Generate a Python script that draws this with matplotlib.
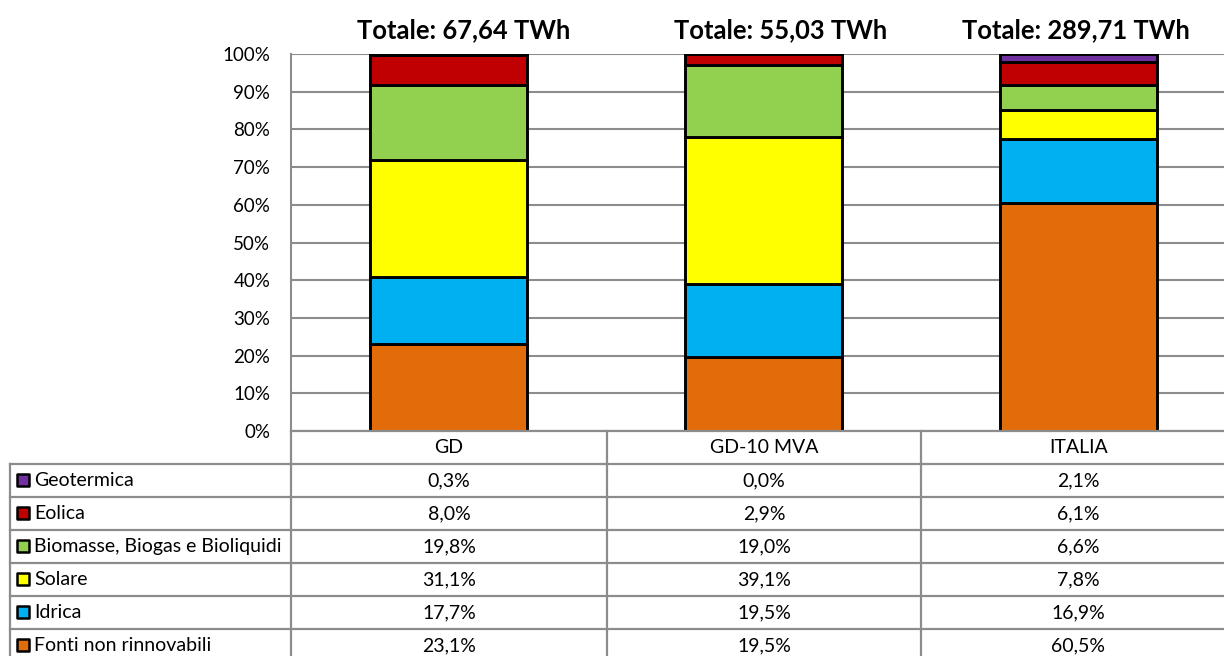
import numpy as np
import matplotlib.pyplot as plt

plt.rcParams['font.family'] = ['Lato', 'DejaVu Sans']

# categories and shares (%)
categorie = ['GD', 'GD-10 MVA', 'ITALIA']
totali = ['Totale: 67,64 TWh', 'Totale: 55,03 TWh', 'Totale: 289,71 TWh']

fonti = ['Fonti non rinnovabili', 'Idrica', 'Solare',
         'Biomasse, Biogas e Bioliquidi', 'Eolica', 'Geotermica']
non_rinnovabili = [23.1, 19.5, 60.5]
idrica = [17.7, 19.5, 16.9]
solare = [31.1, 39.1, 7.8]
biomasse = [19.8, 19.0, 6.6]
eolica = [8.0, 2.9, 6.1]
geotermica = [0.3, 0.0, 2.1]
serie = [non_rinnovabili, idrica, solare, biomasse, eolica, geotermica]
colori = ['#E36C0A', '#00B0F0', '#FFFF00', '#92D050', '#C00000', '#7030A0']

W, H = 1224, 656
GRID = '#8c8c8c'
FS = 14

fig = plt.figure(figsize=(W / 100, H / 100), dpi=100)

# plot area in pixels
px_l, px_r, px_t, px_b = 291, 1236, 54, 431
ax = fig.add_axes([px_l / W, 1 - px_b / H, (px_r - px_l) / W, (px_b - px_t) / H])

x = np.arange(len(categorie))
bottom = np.zeros(len(categorie))
for vals, col in zip(serie, colori):
    vals = np.array(vals)
    ax.bar(x, vals, 0.5, bottom=bottom, color=col, edgecolor='black',
           linewidth=2.1, zorder=3)
    bottom += vals

ax.set_xlim(-0.5, 2.5)
ax.set_ylim(0, 100)
ax.set_yticks(np.arange(0, 101, 10))
ax.set_yticklabels([f'{v}%' for v in range(0, 101, 10)], fontsize=13.5)
ax.set_xticks([])
ax.tick_params(axis='y', length=0, pad=15)
ax.yaxis.grid(True, color=GRID, linewidth=1.5, zorder=0)
for s in ['top', 'right', 'bottom']:
    ax.spines[s].set_visible(False)
ax.spines['left'].set_color(GRID)
ax.spines['left'].set_linewidth(1.5)

# title boxes are slightly shifted from the bar centres
title_shift = [11, 12, -2]
for xi, t, dx in zip(x, totali, title_shift):
    ax.annotate(t, (xi, 103.2), xytext=(dx, 0), textcoords='offset points',
                ha='center', va='bottom', fontsize=18.4, fontweight='bold',
                annotation_clip=False)

# data table below
tx_l, tx_r, ty_t, ty_b = 10, 1236, 431, 662
tax = fig.add_axes([tx_l / W, 1 - ty_b / H, (tx_r - tx_l) / W, (ty_b - ty_t) / H])
tax.set_xlim(tx_l, tx_r)
tax.set_ylim(ty_b, ty_t)
tax.axis('off')

col_edges = [px_l, 607, 921, px_r]
row_h = (ty_b - ty_t) / 7
rows = [ty_t + i * row_h for i in range(8)]

# horizontal lines
tax.plot([px_l, tx_r], [rows[0], rows[0]], color=GRID, lw=1.6, clip_on=False)
for r in rows[1:]:
    tax.plot([tx_l, tx_r], [r, r], color=GRID, lw=1.6, clip_on=False)
# vertical lines
tax.plot([tx_l, tx_l], [rows[1], ty_b], color=GRID, lw=1.6, clip_on=False)
for c in col_edges[:-1]:
    tax.plot([c, c], [rows[0], ty_b], color=GRID, lw=1.6, clip_on=False)

for j, cat in enumerate(categorie):
    cx = (col_edges[j] + col_edges[j + 1]) / 2
    tax.text(cx, (rows[0] + rows[1]) / 2, cat, ha='center', va='center', fontsize=FS)

for i, k in enumerate(range(len(fonti) - 1, -1, -1)):
    cy = (rows[i + 1] + rows[i + 2]) / 2
    tax.scatter([23], [cy], marker='s', s=85, color=colori[k], edgecolor='black',
                linewidth=1.8, zorder=4, clip_on=False)
    tax.text(34, cy, fonti[k], ha='left', va='center', fontsize=FS)
    for j in range(len(categorie)):
        cx = (col_edges[j] + col_edges[j + 1]) / 2
        testo = f'{serie[k][j]:.1f}%'.replace('.', ',')
        tax.text(cx, cy, testo, ha='center', va='center', fontsize=FS)

fig.savefig('out.png', dpi=100)
